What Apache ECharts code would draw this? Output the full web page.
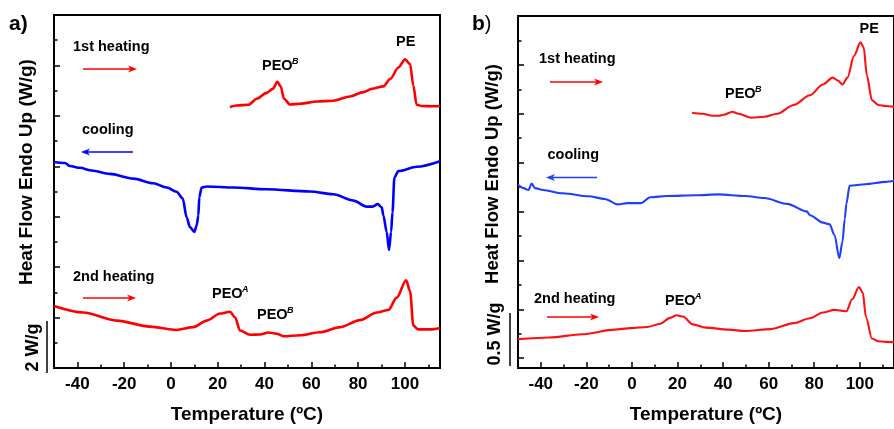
<!DOCTYPE html>
<html>
<head>
<meta charset="utf-8">
<script src="https://cdn.jsdelivr.net/npm/echarts@6/dist/echarts.min.js"></script>
<style>html,body{margin:0;padding:0;background:#fff;}#c{width:894px;height:429px;}</style>
</head>
<body>
<div id="c"></div>
<script>
// ---------- Data (Temperature in °C, heat flow in W/g, arbitrary offsets) ----------
// Panel a
const aHeat1T = [25.2,28.1,33.1,36.7,40.9,43.5,45.5,46.9,48.3,50.9,55.2,62.3,69.4,76.5,82.2,85.8,90.8,93.7,97.2,100.1,102.2,103.6,105,107.2,112.2,115];
const aHeat1W = [10.35,10.41,10.44,10.68,10.91,11.07,11.35,11.17,10.68,10.45,10.48,10.57,10.60,10.77,10.94,11.07,11.17,11.46,11.92,12.24,12.05,11.20,10.44,10.39,10.38,10.39];
const aCoolT = [-50,-45.3,-43.2,-38.9,-33.9,-26.1,-16.1,-7.6,-1.8,2.4,5,6.7,8.1,10,11,11.7,12.1,13.1,15.3,26.7,40.9,59.4,69.4,78,83.7,86.2,88.4,90.1,90.8,92.2,93.2,94.1,94.7,95.5,97.2,105.1,115];
const aCoolW = [8.17,8.13,8.01,7.94,7.83,7.70,7.51,7.33,7.16,6.99,6.73,5.98,5.59,5.40,5.66,6.05,6.77,7.16,7.20,7.16,7.09,7.00,6.89,6.64,6.40,6.40,6.50,6.37,6.05,5.40,4.68,5.40,6.18,7.55,7.81,7.98,8.20];
const aHeat2T = [-50,-37.5,-23.2,-9,2.4,9.5,15.3,21,25.2,27.4,29.5,33.8,38.1,41.6,45.2,48,55.2,63.7,72.3,80.8,88,92.9,96.5,100.5,102.2,103.6,105.7,110.7,115];
const aHeat2W = [2.46,2.20,1.88,1.64,1.51,1.62,1.88,2.16,2.23,2.01,1.49,1.32,1.33,1.41,1.36,1.26,1.30,1.42,1.62,1.90,2.20,2.30,2.79,3.48,3.05,1.68,1.53,1.53,1.59];
// Panel b
const bHeat1T = [26.4,31,35.3,38.1,40.3,44.1,46.7,52.4,58.1,63.8,71,78.1,83.8,88.1,90.3,92.4,94.6,97.4,100.3,101.7,103.1,105.3,108.1,111.3,115];
const bHeat1W = [2.51,2.50,2.48,2.48,2.49,2.52,2.50,2.46,2.47,2.50,2.59,2.69,2.80,2.87,2.84,2.80,2.87,3.09,3.23,3.18,2.89,2.64,2.59,2.58,2.57];
const bCoolT = [-50,-47.6,-45.4,-44,-42.6,-39,-30.4,-19,-11.9,-6.2,-1.9,3.8,8.1,15.3,28.1,38.1,49.6,58.1,68.1,76.7,78.1,83.8,86.7,88.9,91,92.4,93.4,94.1,95.5,102.4,111.3,115];
const bCoolW = [1.774,1.740,1.720,1.787,1.740,1.720,1.687,1.656,1.629,1.573,1.586,1.586,1.646,1.659,1.666,1.676,1.659,1.639,1.579,1.502,1.462,1.387,1.371,1.260,1.024,1.193,1.427,1.579,1.764,1.780,1.804,1.812];
const bHeat2T = [-50,-36.2,-21.9,-7.6,-0.5,6.7,12.4,16.7,19.6,22.4,26.7,32.4,42.4,49.6,61,71,78.1,83.8,88.9,91.7,94.1,96.7,99.6,101.3,102.7,105.3,108.1,111.3,115];
const bHeat2W = [0.195,0.212,0.245,0.292,0.308,0.319,0.353,0.413,0.440,0.426,0.346,0.313,0.292,0.278,0.298,0.359,0.409,0.467,0.494,0.487,0.480,0.605,0.729,0.671,0.419,0.202,0.174,0.167,0.164];

// Tick values
const xMajorTicks = [-40,-20,0,20,40,60,80,100];
const xMinorTicks = [-30,-10,10,30,50,70,90,110];
const aYMajor = [2,4,6,8,10,12];
const aYMinor = [1,3,5,7,9,11,13];
const bYMajor = [0,0.5,1,1.5,2,2.5,3];
const bYMinor = [0.25,0.75,1.25,1.75,2.25,2.75,3.25];

const FONT = 'Liberation Sans, Arial, Helvetica, sans-serif';
const zip = (t, w) => t.map((v, i) => [v, w[i]]);

function xAxes(grid) {
  return [
    { type:'value', gridIndex:grid, position:'bottom', min:-50, max:115,
      axisLine:{show:true, onZero:false, lineStyle:{color:'#000', width:2}},
      axisTick:{show:true, inside:true, length:6, customValues:xMajorTicks, lineStyle:{color:'#000', width:1.5}},
      axisLabel:{show:true, customValues:xMajorTicks, margin:8, color:'#000', fontSize:17, fontWeight:'bold', fontFamily:FONT},
      splitLine:{show:false},
      name:'Temperature (ºC)', nameLocation:'middle', nameGap:37,
      nameTextStyle:{color:'#000', fontSize:19, fontWeight:'bold', fontFamily:FONT} },
    { type:'value', gridIndex:grid, position:'bottom', min:-50, max:115,
      axisLine:{show:false, onZero:false}, axisLabel:{show:false}, splitLine:{show:false},
      axisTick:{show:true, inside:true, length:3.5, customValues:xMinorTicks, lineStyle:{color:'#000', width:1.5}} }
  ];
}
function yAxes(grid, min, max, major, minor) {
  return [
    { type:'value', gridIndex:grid, position:'left', min:min, max:max,
      axisLine:{show:true, onZero:false, lineStyle:{color:'#000', width:2}},
      axisTick:{show:true, inside:true, length:6, customValues:major, lineStyle:{color:'#000', width:1.5}},
      axisLabel:{show:false}, splitLine:{show:false} },
    { type:'value', gridIndex:grid, position:'left', min:min, max:max,
      axisLine:{show:false, onZero:false}, axisLabel:{show:false}, splitLine:{show:false},
      axisTick:{show:true, inside:true, length:3.5, customValues:minor, lineStyle:{color:'#000', width:1.5}} }
  ];
}
function line(xi, yi, data, color, w) {
  return { type:'line', xAxisIndex:xi, yAxisIndex:yi, data:data, showSymbol:false, symbol:'none',
    smooth:0.3, smoothMonotone:'x', lineStyle:{color:color, width:w}, itemStyle:{color:color}, animation:false, silent:true };
}

function txt(x, y, s, size, opts) {
  opts = opts || {};
  return { type:'text', x:x, y:y, rotation:opts.rot || 0, silent:true,
    style:{ text:s, fill:'#000', fontSize:size, fontWeight:opts.weight || 'bold', fontStyle:opts.style || 'normal',
      fontFamily:FONT, align:opts.align || 'left', verticalAlign:opts.va || 'middle' } };
}
function arrow(x1, x2, y, color) {
  const dir = x2 > x1 ? 1 : -1;
  return [
    { type:'line', silent:true, shape:{x1:x1, y1:y, x2:x2 - dir*5, y2:y}, style:{stroke:color, lineWidth:1.6} },
    { type:'polygon', silent:true, shape:{points:[[x2, y], [x2 - dir*9, y - 3.6], [x2 - dir*6.5, y], [x2 - dir*9, y + 3.6]]}, style:{fill:color} }
  ];
}
function peo(x, cy, sup, size) {
  return [ txt(x, cy, 'PEO', size || 14.5), txt(x + 30, cy - 8.5, sup, 9, {style:'italic', va:'top', weight:'bold'}) ];
}

const graphics = [].concat(
  // panel labels
  [txt(9, 24, 'a)', 21)],
  [{ type:'text', x:472, y:24, silent:true, style:{ text:'{b|b}{p|)}', verticalAlign:'middle',
      rich:{ b:{fontSize:21, fontWeight:'bold', fontFamily:FONT, fill:'#000'}, p:{fontSize:20, fontWeight:'normal', fontFamily:FONT, fill:'#000'} } } }],
  // y axis titles
  [txt(27, 172, 'Heat Flow Endo Up (W/g)', 19, {rot:Math.PI/2, align:'center'})],
  [txt(493, 174, 'Heat Flow Endo Up (W/g)', 18.5, {rot:Math.PI/2, align:'center'})],
  // scale bars
  [{ type:'line', silent:true, shape:{x1:47, y1:321, x2:47, y2:373}, style:{stroke:'#000', lineWidth:1.5} }],
  [txt(33, 347.5, '2 W/g', 18, {rot:Math.PI/2, align:'center'})],
  [{ type:'line', silent:true, shape:{x1:510, y1:313, x2:510, y2:366}, style:{stroke:'#000', lineWidth:1.5} }],
  [txt(495, 334, '0.5 W/g', 18, {rot:Math.PI/2, align:'center'})],
  // panel a annotations
  [txt(73, 47, '1st heating', 14.5)], arrow(83, 137, 69, '#ff0000'),
  peo(262, 66, 'B'),
  [txt(396, 42, 'PE', 14.5)],
  [txt(82, 130, 'cooling', 14.5)], arrow(133, 81, 152, '#0000ff'),
  [txt(73, 277, '2nd heating', 14.5)], arrow(83, 136, 298, '#ff0000'),
  peo(212, 293.5, 'A'),
  peo(257, 315, 'B'),
  // panel b annotations
  [txt(539, 58.5, '1st heating', 14.5)], arrow(550, 603, 82, '#ff0000'),
  peo(725, 94, 'B'),
  [txt(859.5, 29, 'PE', 14.5)],
  [txt(547.5, 155, 'cooling', 14.5)], arrow(597, 546, 177.5, '#1f3fff'),
  [txt(534, 298.5, '2nd heating', 14.5)], arrow(547, 599, 317, '#ff0000'),
  peo(665, 301, 'A')
);

const chart = echarts.init(document.getElementById('c'), null, {renderer:'canvas'});
chart.setOption({
  backgroundColor:'#fff',
  animation:false,
  grid:[
    { left:54, top:15, width:386, height:358, show:true, borderColor:'#000', borderWidth:2, backgroundColor:'transparent', containLabel:false },
    { left:518, top:16, width:385, height:357, show:true, borderColor:'#000', borderWidth:2, backgroundColor:'transparent', containLabel:false }
  ],
  xAxis: xAxes(0).concat(xAxes(1)),
  yAxis: yAxes(0, 0, 14, aYMajor, aYMinor).concat(yAxes(1, -0.1, 3.5, bYMajor, bYMinor)),
  series:[
    line(0, 0, zip(aHeat1T, aHeat1W), '#ff0000', 2.6),
    line(0, 0, zip(aCoolT, aCoolW), '#0000ff', 2.6),
    line(0, 0, zip(aHeat2T, aHeat2W), '#ff0000', 2.6),
    line(2, 2, zip(bHeat1T, bHeat1W), '#ff1010', 2.1),
    line(2, 2, zip(bCoolT, bCoolW), '#1f3fff', 2.1),
    line(2, 2, zip(bHeat2T, bHeat2W), '#ff1010', 2.1)
  ],
  graphic: graphics
});
</script>
</body>
</html>
